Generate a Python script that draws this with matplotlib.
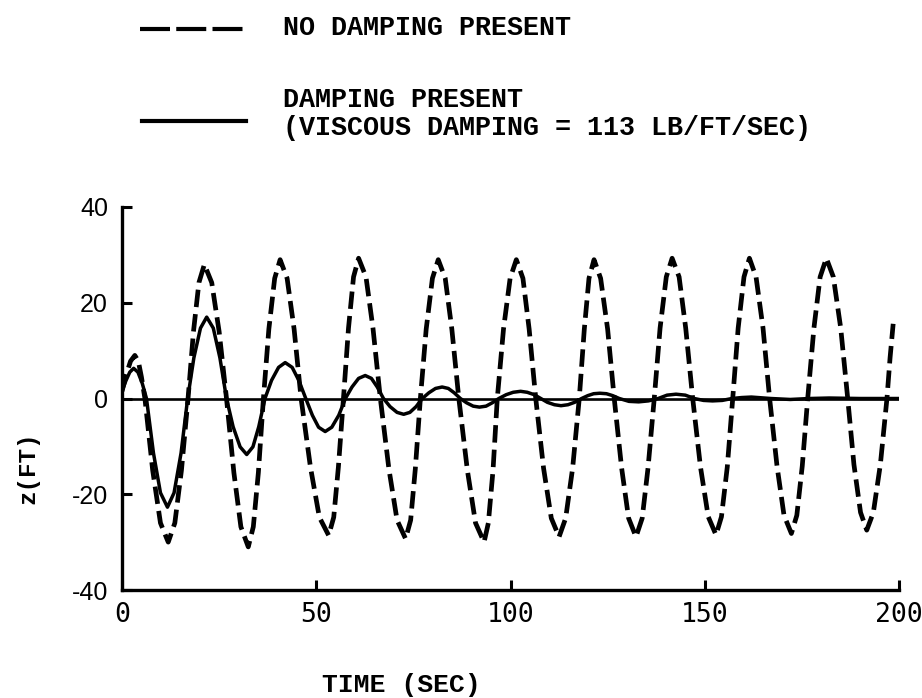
import matplotlib
matplotlib.use("Agg")
import matplotlib.pyplot as plt
from matplotlib.lines import Line2D

# time (sec) / z (ft)
t_undamped = [0, 1.1, 2.2, 3.3, 4.2, 5.0, 5.9, 7.9, 9.9, 11.9,
              13.6, 15.3, 17.0, 18.4, 19.8, 21.2, 23.1, 25.0, 26.9, 28.8,
              30.6, 32.5, 33.8, 35.1, 36.4, 37.8, 39.3, 40.7, 42.5, 44.3,
              46.1, 48.5, 50.8, 53.2, 54.5, 55.7, 57.0, 58.3, 59.6, 60.9,
              62.8, 64.6, 66.5, 68.7, 70.8, 73.0, 74.3, 75.5, 76.8, 78.3,
              79.9, 81.4, 83.2, 84.9, 86.7, 88.9, 91.0, 93.2, 94.3, 95.5,
              96.6, 98.2, 99.9, 101.5, 103.2, 104.8, 106.5, 108.5, 110.5, 112.5,
              114.2, 116.0, 117.7, 119.0, 120.2, 121.5, 123.2, 125.0, 126.7, 128.6,
              130.4, 132.3, 133.9, 135.4, 137.0, 138.5, 140.1, 141.6, 143.4, 145.1,
              146.9, 148.9, 150.9, 152.9, 154.3, 155.8, 157.2, 158.6, 160.1, 161.5,
              163.2, 165.0, 166.7, 168.6, 170.4, 172.3, 173.7, 175.1, 176.5, 178.1,
              179.7, 181.3, 183.1, 185.0, 186.8, 188.4, 190.1, 191.7, 193.4, 195.2,
              196.9, 197.7, 198.5]
z_undamped = [1.5, 5.0, 7.8, 9.0, 7.8, 4.5, 0, -15.0, -26.0, -30.0,
              -26.0, -15.0, 0, 14.0, 24.2, 28.0, 24.2, 14.0, 0, -15.5,
              -26.8, -31.0, -26.8, -15.5, 0, 14.5, 25.1, 29.0, 25.1, 14.5,
              0, -14.3, -24.8, -28.6, -24.8, -14.3, 0, 14.7, 25.4, 29.3,
              25.4, 14.7, 0, -14.7, -25.4, -29.3, -25.4, -14.7, 0, 14.5,
              25.1, 29.0, 25.1, 14.5, 0, -15.0, -26.0, -30.0, -26.0, -15.0,
              0, 14.5, 25.1, 29.0, 25.1, 14.5, 0, -14.5, -25.0, -28.9,
              -25.0, -14.5, 0, 14.5, 25.1, 29.0, 25.1, 14.5, 0, -14.5,
              -25.0, -28.9, -25.0, -14.5, 0, 14.7, 25.4, 29.3, 25.4, 14.7,
              0, -14.3, -24.7, -28.5, -24.7, -14.3, 0, 14.7, 25.4, 29.3,
              25.4, 14.7, 0, -14.1, -24.4, -28.2, -24.4, -14.1, 0, 14.7,
              25.4, 29.3, 25.4, 14.7, 0, -13.8, -23.8, -27.5, -23.8, -13.8,
              0, 8.5, 15.6]

t_damped = [0, 1.0, 2.0, 3.0, 4.1, 5.2, 6.3, 8.1, 9.9, 11.7,
            13.4, 15.2, 16.9, 18.5, 20.2, 21.8, 23.5, 25.2, 26.9, 28.6,
            30.4, 32.1, 33.7, 35.2, 36.8, 38.5, 40.3, 42.0, 43.8, 45.5,
            47.3, 49.0, 50.6, 52.3, 54.0, 55.8, 57.5, 59.2, 60.9, 62.6,
            64.2, 65.7, 67.3, 69.0, 70.8, 72.5, 74.1, 75.7, 77.3, 79.0,
            80.7, 82.4, 84.0, 85.5, 87.1, 88.7, 90.4, 92.0, 93.7, 95.3,
            97.0, 98.9, 100.7, 102.6, 104.3, 106.1, 107.8, 109.5, 111.3, 113.0,
            114.8, 116.5, 118.3, 119.9, 121.4, 123.0, 124.7, 126.3, 128.0, 130.5,
            133.0, 135.5, 138.0, 140.3, 142.6, 145.0, 147.3, 149.7, 152.0, 154.5,
            157.0, 159.5, 162.0, 167.0, 172.0, 177.0, 182.0, 190.0, 199.6]
z_damped = [1.5, 3.7, 5.5, 6.3, 5.5, 3.2, 0, -11.4, -19.7, -22.7,
            -19.7, -11.4, 0, 8.5, 14.7, 17.0, 14.7, 8.5, 0, -5.9,
            -10.1, -11.7, -10.1, -5.9, 0, 3.8, 6.5, 7.5, 6.5, 3.8,
            0, -3.5, -6.0, -6.9, -6.0, -3.5, 0, 2.4, 4.2, 4.8,
            4.2, 2.4, 0, -1.7, -2.9, -3.3, -2.9, -1.7, 0, 1.2,
            2.1, 2.4, 2.1, 1.2, 0, -0.9, -1.6, -1.8, -1.6, -0.9,
            0, 0.8, 1.3, 1.5, 1.3, 0.8, 0, -0.8, -1.3, -1.5,
            -1.3, -0.8, 0, 0.6, 1.0, 1.1, 1.0, 0.6, 0, -0.6,
            -0.7, -0.5, 0, 0.7, 0.9, 0.7, 0, -0.4, -0.5, -0.4,
            0, 0.2, 0.3, 0, -0.2, 0, 0.1, 0, 0]

x_ticks = [0, 50, 100, 150, 200]
y_ticks = [-40, -20, 0, 20, 40]
y_ticklabels = ["-40", "-20", "0", "20", "40"]

W, H = 922, 698
MONO = "Liberation Mono"


def fx(x):
    return x / W


def fy(y):
    return 1 - y / H


fig = plt.figure(figsize=(W / 100, H / 100), dpi=100)
ax = fig.add_axes([fx(122), fy(590), fx(899) - fx(122), fy(207) - fy(590)])

ax.axhline(0, color="black", lw=1.9, zorder=2)
ax.plot(t_undamped, z_undamped, color="black", lw=3.4, dashes=(3.7, 1.5), zorder=3)
ax.plot(t_damped, z_damped, color="black", lw=2.5, solid_joinstyle="round", zorder=4)

ax.set_xlim(0, 200)
ax.set_ylim(-40, 40)
ax.set_xticks(x_ticks)
ax.set_xticklabels([str(v) for v in x_ticks], family="DejaVu Sans Mono", fontsize=19)
ax.set_yticks(y_ticks)
ax.set_yticklabels(y_ticklabels, family="Liberation Sans", fontsize=18)
ax.tick_params(axis="both", direction="in", length=7, width=2.2, color="black")
ax.tick_params(axis="x", pad=9)
ax.tick_params(axis="y", pad=10)

for side in ("top", "right"):
    ax.spines[side].set_visible(False)
for side in ("left", "bottom"):
    ax.spines[side].set_linewidth(2.4)

# axis titles
fig.text(fx(322), fy(692), "TIME (SEC)", family=MONO, fontsize=19,
         weight="bold", ha="left", va="baseline")
fig.text(fx(28), fy(468), "z(FT)", family=MONO, fontsize=17.5, weight="bold",
         rotation=90, ha="center", va="center")

# key at the top
fig.add_artist(Line2D([fx(140), fx(244)], [fy(29), fy(29)], color="black",
                      lw=3, dashes=(7.2, 1.5), transform=fig.transFigure))
fig.add_artist(Line2D([fx(142), fx(246)], [fy(121), fy(121)], color="black",
                      lw=3, transform=fig.transFigure))
fig.text(fx(283), fy(35), "NO DAMPING PRESENT", family=MONO, fontsize=19.3,
         weight="bold", ha="left", va="baseline")
fig.text(fx(283), fy(107), "DAMPING PRESENT", family=MONO, fontsize=19.3,
         weight="bold", ha="left", va="baseline")
fig.text(fx(283), fy(135), "(VISCOUS DAMPING = 113 LB/FT/SEC)", family=MONO,
         fontsize=19.3, weight="bold", ha="left", va="baseline")

fig.savefig("out.png", dpi=100)
